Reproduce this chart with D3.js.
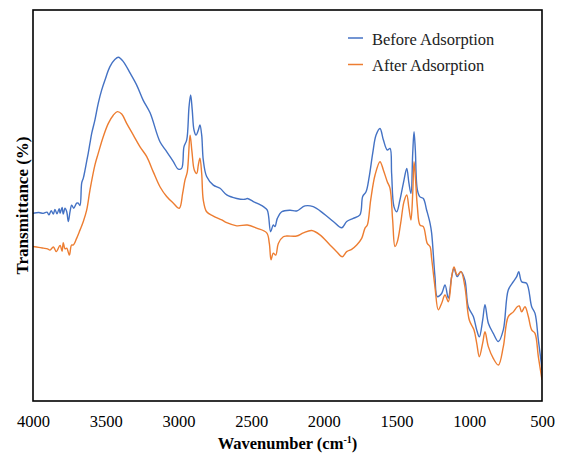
<!DOCTYPE html>
<html><head><meta charset="utf-8">
<script src="https://cdn.jsdelivr.net/npm/d3@7"></script>
<style>html,body{margin:0;padding:0;background:#fff;}svg{display:block;}
svg text{font-family:"Liberation Serif","Times New Roman",serif;}</style>
</head><body>
<svg id="chart" width="561" height="454"></svg>
<script>
const seriesNames = ["Before Adsorption", "After Adsorption"];
const seriesColors = ["#4472C4", "#ED7D31"];
const xTicks = [4000, 3500, 3000, 2500, 2000, 1500, 1000, 500];

const beforeWn = [4000,3960,3929,3904,3890,3875,3860,3849,3835,3820,3814,3800,3792,3780,3768,3757,3745,3734,3720,3700,3689,3677,3665,3654,3642,3631,3620,3608,3596,3574,3551,3528,3505,3471,3436,3413,3379,3333,3287,3242,3195,3127,3081,3035,3001,2978,2962,2943,2927,2916,2905,2893,2879,2863,2852,2840,2829,2806,2760,2714,2668,2599,2542,2526,2485,2416,2389,2366,2348,2336,2320,2290,2233,2187,2130,2073,2004,1935,1877,1843,1798,1752,1733,1710,1688,1664,1641,1614,1591,1564,1545,1534,1518,1499,1477,1449,1430,1415,1401,1389,1380,1371,1357,1339,1316,1293,1270,1259,1236,1220,1190,1167,1144,1121,1105,1083,1057,1030,1007,972,949,931,908,892,869,835,800,766,732,697,674,660,640,606,571,548,525,502,500];
const beforeT = [48.0,48.2,48.0,48.3,47.6,48.7,47.8,49.0,47.9,49.2,48.0,49.5,47.8,49.3,48.4,45.9,48.5,50.1,49.3,50.6,50.6,50.0,55.8,57.0,59.1,61.3,63.4,66.0,68.5,71.9,76.2,79.5,82.1,85.5,87.4,87.9,86.8,83.9,80.8,76.9,73.7,66.3,63.8,61.2,59.3,59.5,65.0,66.8,75.3,78.3,74.4,69.3,68.0,69.3,70.6,68.0,61.6,57.4,55.2,54.4,52.7,51.8,51.6,51.8,51.0,49.7,48.8,43.3,45.0,44.6,46.7,48.4,48.8,48.6,49.9,49.7,48.0,45.9,44.3,45.9,46.7,47.6,52.3,53.5,57.4,63.4,68.0,69.7,66.8,64.2,64.6,58.2,49.7,48.4,51.4,56.5,59.5,55.7,53.1,63.4,68.9,64.2,54.0,52.2,51.8,48.8,45.5,43.0,31.8,26.7,27.5,29.7,26.3,31.8,33.9,31.8,33.1,30.9,24.1,21.6,18.2,16.4,20.7,24.6,19.9,17.3,15.2,18.2,28.4,30.5,31.8,33.1,30.5,30.1,24.1,22.4,15.6,8.8,7.9];

const afterWn = [4000,3960,3929,3900,3883,3860,3840,3814,3800,3792,3780,3768,3750,3735,3723,3700,3677,3654,3631,3608,3574,3551,3517,3482,3448,3420,3390,3356,3310,3264,3218,3173,3127,3081,3035,2994,2971,2955,2939,2920,2907,2891,2874,2863,2852,2840,2829,2806,2760,2702,2668,2599,2526,2462,2393,2375,2363,2348,2331,2313,2279,2256,2187,2141,2084,2027,1958,1912,1873,1843,1809,1774,1740,1717,1701,1678,1648,1614,1591,1564,1545,1527,1511,1495,1472,1449,1430,1415,1401,1389,1380,1371,1357,1339,1316,1289,1270,1259,1236,1213,1190,1167,1144,1121,1105,1083,1057,1030,1000,968,949,931,908,892,869,835,800,766,732,697,670,656,640,617,594,571,548,525,500];
const afterT = [39.5,39.3,39.1,38.9,38.6,39.4,38.2,39.8,38.3,40.5,38.9,39.1,37.3,39.9,39.9,41.6,43.7,45.9,48.8,54.0,60.4,63.4,67.6,71.0,73.1,74.0,73.4,71.0,68.0,65.0,62.5,58.6,54.8,52.3,50.6,49.3,53.1,56.5,58.6,68.0,63.8,59.1,58.2,60.4,62.1,58.2,51.4,48.4,47.3,46.3,45.6,44.8,45.0,44.2,43.0,40.3,36.1,37.8,37.3,40.3,42.0,42.2,42.2,43.0,43.6,42.5,39.9,38.2,36.9,38.2,38.8,39.9,41.6,44.2,45.0,51.4,57.8,61.2,59.1,56.1,54.4,46.3,39.5,40.7,45.4,51.0,52.7,49.3,46.3,53.1,61.2,57.4,49.7,45.0,44.6,40.3,39.5,36.5,29.2,23.3,25.0,27.1,25.4,31.8,34.3,32.2,33.1,29.2,20.7,18.2,14.8,11.3,14.8,17.7,13.9,10.9,9.2,13.9,21.6,22.8,24.1,24.3,22.8,24.1,21.6,18.2,17.3,11.3,5.4];

const svg = d3.select("#chart");
const m = {left: 33, right: 542, top: 10, bottom: 401};
const x = d3.scaleLinear().domain([4000, 500]).range([m.left, m.right]);
const y = d3.scaleLinear().domain([0, 100]).range([m.bottom, m.top]);
const font = '"Liberation Serif","Times New Roman",serif';

const series = [
  {name: seriesNames[0], color: seriesColors[0], wn: beforeWn, t: beforeT},
  {name: seriesNames[1], color: seriesColors[1], wn: afterWn, t: afterT}
];

const line = d3.line().x(d => x(d[0])).y(d => y(d[1])).curve(d3.curveCatmullRom.alpha(0.5));
svg.append("defs").append("clipPath").attr("id","clip")
  .append("rect").attr("x", m.left).attr("y", m.top).attr("width", m.right-m.left).attr("height", m.bottom-m.top);

series.forEach(s => {
  svg.append("path")
    .datum(s.wn.map((w,i) => [w, s.t[i]]))
    .attr("d", line)
    .attr("fill","none").attr("stroke", s.color).attr("stroke-width", 1.4)
    .attr("stroke-linejoin","round")
    .attr("clip-path","url(#clip)");
});

// frame
svg.append("rect").attr("x", m.left).attr("y", m.top)
  .attr("width", m.right-m.left).attr("height", m.bottom-m.top)
  .attr("fill","none").attr("stroke","#000").attr("stroke-width",1.6);

// x axis labels
const xAxis = d3.axisBottom(x).tickValues(xTicks).tickSize(0).tickPadding(0).tickFormat(d3.format("d"));
const gx = svg.append("g").attr("transform", `translate(0,${m.bottom})`).call(xAxis);
gx.attr("font-family", null);
gx.select(".domain").remove();
gx.selectAll("text").style("font-family", font).style("font-size", "16.5px").attr("fill","#000")
  .attr("dy", null).attr("y", 26);

// x title
const xt = svg.append("text").attr("x", (m.left+m.right)/2).attr("y", 449)
  .attr("text-anchor","middle").style("font-family", font).style("font-weight","bold")
  .style("font-size", "16.5px").attr("fill","#000");
xt.append("tspan").text("Wavenumber (cm");
xt.append("tspan").text("-1").style("font-size", "10px").attr("dy", -6);
xt.append("tspan").text(")").attr("dy", 6);

// y title
svg.append("text").attr("transform", `translate(28,${(m.top+m.bottom)/2}) rotate(-90)`)
  .attr("text-anchor","middle").style("font-family", font).style("font-weight","bold")
  .style("font-size", "17px").attr("fill","#000").text("Transmittance (%)");

// legend
series.forEach((s,i) => {
  const ly = 38 + i*26.5;
  svg.append("line").attr("x1", 348).attr("x2", 363).attr("y1", ly).attr("y2", ly)
    .attr("stroke", s.color).attr("stroke-width", 1.5);
  svg.append("text").attr("x", 372).attr("y", ly + 6.5)
    .style("font-family", font).style("font-size", "16.5px").attr("fill","#222").text(s.name);
});
</script>
</body></html>
